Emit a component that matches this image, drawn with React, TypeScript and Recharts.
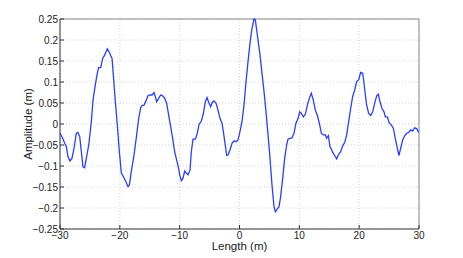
import React from 'react';
import { LineChart, Line, XAxis, YAxis, CartesianGrid, ReferenceLine } from 'recharts';

const lengths = [
  -30, -29.55, -29.22, -28.94, -28.66, -28.33, -28.0, -27.66, -27.27, -27.0, -26.7, -26.43, -26.16, -25.88,
  -25.6, -25.2, -24.76, -24.48, -24.1, -23.76, -23.54, -23.2, -22.87, -22.54, -22.1, -21.8, -21.53, -21.3,
  -21.09, -20.75, -20.42, -20.08, -19.75, -19.42, -19.0, -18.64, -18.4, -18.08, -17.63, -17.19, -16.85,
  -16.52, -16.3, -15.96, -15.63, -15.3, -14.96, -14.62, -14.29, -14.07, -13.85, -13.51, -13.18, -12.84,
  -12.5, -12.17, -11.84, -11.5, -11.17, -10.84, -10.5, -10.17, -10.0, -9.72, -9.44, -9.16, -8.88, -8.61,
  -8.27, -8.05, -7.77, -7.38, -7.05, -6.77, -6.38, -6.04, -5.71, -5.43, -5.15, -4.82, -4.54, -4.26, -3.92,
  -3.59, -3.25, -2.92, -2.7, -2.42, -2.14, -1.92, -1.59, -1.25, -0.92, -0.58, -0.25, 0.08, 0.42, 0.75, 1.09,
  1.42, 1.75, 2.09, 2.42, 2.65, 2.98, 3.43, 3.76, 4.1, 4.43, 4.77, 5.1, 5.43, 5.77, 5.99, 6.33, 6.6, 6.88,
  7.22, 7.55, 7.88, 8.1, 8.44, 8.77, 9.11, 9.44, 9.78, 10.06, 10.33, 10.67, 11.0, 11.34, 11.67, 12.0, 12.34,
  12.67, 13.0, 13.34, 13.68, 14.01, 14.35, 14.57, 14.85, 15.13, 15.35, 15.68, 16.02, 16.24, 16.57, 16.91,
  17.24, 17.58, 17.91, 18.25, 18.58, 18.91, 19.25, 19.58, 19.92, 20.25, 20.59, 20.81, 21.03, 21.25, 21.59,
  21.92, 22.26, 22.59, 22.93, 23.2, 23.48, 23.82, 24.15, 24.37, 24.71, 25.04, 25.37, 25.71, 26.04, 26.32,
  26.65, 26.93, 27.27, 27.6, 27.94, 28.27, 28.61, 28.94, 29.27, 29.61, 29.95,
];

const amplitudes = [
  -0.022, -0.034, -0.046, -0.054, -0.078, -0.088, -0.082, -0.058, -0.022, -0.02, -0.03, -0.066, -0.102, -0.104,
  -0.082, -0.05, 0.006, 0.057, 0.093, 0.121, 0.134, 0.134, 0.156, 0.164, 0.179, 0.172, 0.163, 0.156,
  0.117, 0.053, -0.002, -0.066, -0.117, -0.125, -0.137, -0.149, -0.145, -0.113, -0.074, -0.026, 0.013,
  0.039, 0.044, 0.045, 0.055, 0.067, 0.069, 0.069, 0.075, 0.065, 0.053, 0.061, 0.069, 0.067,
  0.061, 0.049, 0.021, -0.006, -0.034, -0.066, -0.086, -0.106, -0.121, -0.135, -0.129, -0.112, -0.117, -0.121,
  -0.11, -0.066, -0.036, -0.036, -0.022, -0.001, 0.007, 0.025, 0.053, 0.063, 0.052, 0.041, 0.052, 0.055, 0.049,
  0.033, 0.013, 0.002, -0.018, -0.046, -0.075, -0.074, -0.062, -0.046, -0.04, -0.042, -0.038, -0.018, 0.006, 0.045, 0.101,
  0.148, 0.192, 0.228, 0.25, 0.248, 0.212, 0.164, 0.121, 0.077, 0.029, -0.026, -0.082, -0.145, -0.197, -0.209, -0.202, -0.197, -0.173,
  -0.129, -0.082, -0.05, -0.036, -0.034, -0.033, -0.022, 0.002, 0.013, 0.029, 0.025, 0.017, 0.023, 0.045, 0.061, 0.073, 0.057,
  0.033, 0.021, 0.002, -0.022, -0.026, -0.026, -0.034, -0.028, -0.054, -0.06, -0.07, -0.078, -0.083, -0.072, -0.066,
  -0.052, -0.044, -0.026, 0.006, 0.037, 0.065, 0.081, 0.101, 0.105, 0.123, 0.121, 0.097, 0.069, 0.045, 0.025,
  0.02, 0.029, 0.049, 0.067, 0.071, 0.053, 0.037, 0.029, 0.017, 0.017, 0.002, -0.002, -0.01, -0.034, -0.054,
  -0.075, -0.058, -0.038, -0.028, -0.022, -0.02, -0.014, -0.017, -0.009, -0.011, -0.02,
];

const xTicks = [-30, -20, -10, 0, 10, 20, 30];
const yTicks = [-0.25, -0.2, -0.15, -0.1, -0.05, 0, 0.05, 0.1, 0.15, 0.2, 0.25];

const data = lengths.map((x, i) => ({ x, y: amplitudes[i] }));

const FONT = '"Liberation Sans", Arial, sans-serif';
const fmt = (v: number) => (v < 0 ? '\u2212' + String(-v) : String(v));

export default function App() {
  return (
    <div style={{ position: 'absolute', left: 0, top: 0, width: 463, height: 258, background: '#fff' }}>
      <LineChart width={463} height={258} data={data} margin={{ top: 19, right: 44, bottom: 0, left: 0 }}>
        <CartesianGrid stroke="#c8c8c8" strokeDasharray="1 2" strokeWidth={0.8} />
        <ReferenceLine y={0.25} stroke="#888" strokeWidth={1} />
        <ReferenceLine x={30} stroke="#888" strokeWidth={1} />
        <XAxis
          dataKey="x"
          type="number"
          domain={[-30, 30]}
          ticks={xTicks}
          interval={0}
          height={29}
          tickSize={-4}
          tickMargin={7}
          tickFormatter={fmt}
          stroke="#333"
          tick={{ fill: '#222', fontSize: 10, fontFamily: FONT }}
          label={{
            content: (p: any) => (
              <text
                x={p.viewBox.x + p.viewBox.width / 2}
                y={p.viewBox.y + 21}
                textAnchor="middle"
                fontSize={11.5}
                fontFamily={FONT}
                fill="#222"
              >
                Length (m)
              </text>
            ),
          }}
        />
        <XAxis
          xAxisId="top"
          orientation="top"
          type="number"
          domain={[-30, 30]}
          ticks={xTicks}
          interval={0}
          height={0}
          tickSize={-4}
          stroke="#888"
          tick={() => <g />}
        />
        <YAxis
          type="number"
          domain={[-0.25, 0.25]}
          ticks={yTicks}
          interval={0}
          width={60}
          tickSize={-4}
          tickMargin={6}
          tickFormatter={fmt}
          stroke="#333"
          tick={{ fill: '#222', fontSize: 10, fontFamily: FONT }}
          label={{
            content: (p: any) => {
              const cx = 28;
              const cy = p.viewBox.y + p.viewBox.height / 2;
              return (
                <text
                  x={cx}
                  y={cy}
                  transform={`rotate(-90 ${cx} ${cy})`}
                  textAnchor="middle"
                  dominantBaseline="central"
                  fontSize={11.5}
                  fontFamily={FONT}
                  fill="#222"
                >
                  Amplitude (m)
                </text>
              );
            },
          }}
        />
        <YAxis
          yAxisId="right"
          orientation="right"
          type="number"
          domain={[-0.25, 0.25]}
          ticks={yTicks}
          interval={0}
          width={0}
          tickSize={-4}
          stroke="#888"
          tick={() => <g />}
        />
        <Line
          dataKey="y"
          type="linear"
          stroke="#2b3dff"
          strokeWidth={1.3}
          dot={false}
          isAnimationActive={false}
        />
      </LineChart>
    </div>
  );
}
